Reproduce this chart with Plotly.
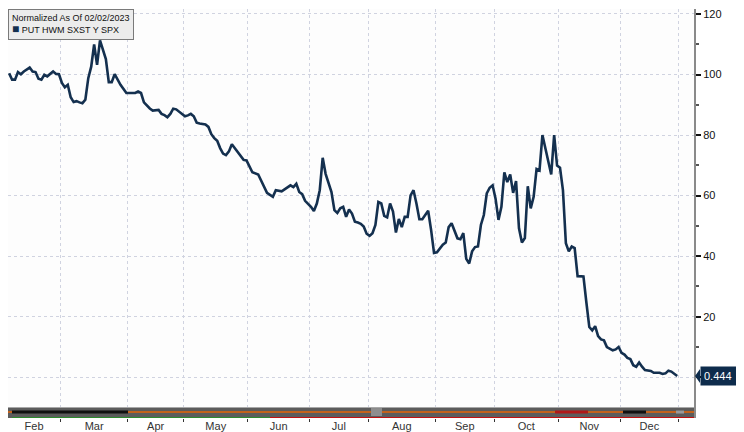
import pandas as pd
import plotly.graph_objects as go

# ---------------- data ----------------
series_name = "PUT HWM SXST Y SPX"
legend_title = "Normalized As Of 02/02/2023"
last_value_text = "0.444"

holidays = ["2023-02-20", "2023-04-07", "2023-05-29", "2023-06-19",
            "2023-07-04", "2023-09-04", "2023-11-23", "2023-12-25"]

dates = [
    "2023-02-02", "2023-02-03", "2023-02-06", "2023-02-07", "2023-02-08", "2023-02-09",
    "2023-02-13", "2023-02-14", "2023-02-15", "2023-02-16", "2023-02-17", "2023-02-21",
    "2023-02-22", "2023-02-23", "2023-02-24", "2023-02-27", "2023-02-28",
    "2023-03-01", "2023-03-02", "2023-03-03", "2023-03-06", "2023-03-07", "2023-03-08",
    "2023-03-09", "2023-03-10", "2023-03-13", "2023-03-14", "2023-03-15", "2023-03-16",
    "2023-03-17", "2023-03-20", "2023-03-22", "2023-03-23", "2023-03-24", "2023-03-27",
    "2023-03-29", "2023-03-31",
    "2023-04-05", "2023-04-06", "2023-04-10", "2023-04-11", "2023-04-13", "2023-04-14",
    "2023-04-18", "2023-04-19", "2023-04-20", "2023-04-21", "2023-04-24", "2023-04-25",
    "2023-04-26", "2023-04-27",
    "2023-05-01", "2023-05-02", "2023-05-03", "2023-05-04", "2023-05-05", "2023-05-08",
    "2023-05-10", "2023-05-11", "2023-05-12", "2023-05-15", "2023-05-16", "2023-05-17",
    "2023-05-18", "2023-05-19", "2023-05-22", "2023-05-23", "2023-05-24", "2023-05-26",
    "2023-05-30", "2023-05-31",
    "2023-06-01", "2023-06-02", "2023-06-06", "2023-06-07", "2023-06-08", "2023-06-09",
    "2023-06-13", "2023-06-14", "2023-06-16", "2023-06-20", "2023-06-22", "2023-06-23",
    "2023-06-26", "2023-06-27", "2023-06-28", "2023-06-29",
    "2023-07-03", "2023-07-05", "2023-07-06", "2023-07-07", "2023-07-10", "2023-07-11",
    "2023-07-13", "2023-07-14", "2023-07-17", "2023-07-18", "2023-07-19", "2023-07-20",
    "2023-07-21", "2023-07-24", "2023-07-25", "2023-07-26", "2023-07-27", "2023-07-28",
    "2023-07-31",
    "2023-08-01", "2023-08-02", "2023-08-03", "2023-08-04", "2023-08-07", "2023-08-08",
    "2023-08-09", "2023-08-10", "2023-08-11", "2023-08-14", "2023-08-15", "2023-08-16",
    "2023-08-17", "2023-08-18", "2023-08-21", "2023-08-22", "2023-08-23", "2023-08-24",
    "2023-08-25", "2023-08-28", "2023-08-29", "2023-08-30", "2023-08-31",
    "2023-09-01", "2023-09-05", "2023-09-06", "2023-09-07", "2023-09-08", "2023-09-11",
    "2023-09-12", "2023-09-13", "2023-09-14", "2023-09-15", "2023-09-18", "2023-09-19",
    "2023-09-20", "2023-09-21", "2023-09-22", "2023-09-25", "2023-09-26", "2023-09-27",
    "2023-09-28", "2023-09-29",
    "2023-10-02", "2023-10-03", "2023-10-04", "2023-10-05", "2023-10-06", "2023-10-09",
    "2023-10-10", "2023-10-11", "2023-10-12", "2023-10-13", "2023-10-16", "2023-10-17",
    "2023-10-18", "2023-10-19", "2023-10-20", "2023-10-23", "2023-10-24", "2023-10-25",
    "2023-10-27", "2023-10-30", "2023-10-31",
    "2023-11-01", "2023-11-02", "2023-11-03", "2023-11-06", "2023-11-07", "2023-11-08",
    "2023-11-09", "2023-11-13", "2023-11-14", "2023-11-15", "2023-11-16", "2023-11-17",
    "2023-11-20", "2023-11-21", "2023-11-22", "2023-11-24", "2023-11-28", "2023-11-29",
    "2023-11-30",
    "2023-12-01", "2023-12-04", "2023-12-05", "2023-12-06", "2023-12-07", "2023-12-08",
    "2023-12-11", "2023-12-12", "2023-12-13", "2023-12-15", "2023-12-18", "2023-12-20",
    "2023-12-21", "2023-12-22", "2023-12-26", "2023-12-27", "2023-12-29",
]

values = [
    100.4, 98.3, 98.3, 100.8, 100.1, 101.0,
    102.3, 101.0, 100.8, 98.6, 98.3, 99.9,
    99.4, 100.3, 101.0, 100.2, 100.1,
    97.2, 95.8, 96.6, 92.5, 90.9, 91.2,
    90.8, 90.5, 91.7, 98.8, 102.6, 109.9,
    103.2, 111.3, 105.1, 97.5, 97.5, 100.1,
    96.6, 93.9,
    93.9, 94.4, 93.9, 90.8, 88.8, 88.1,
    88.3, 87.0, 86.6, 85.9, 87.0, 88.7,
    88.5, 87.7,
    86.2, 86.5, 87.0, 86.2, 84.1, 83.8,
    83.5, 82.7, 80.3, 79.0, 78.1, 75.7,
    73.9, 73.4, 74.6, 77.0, 75.7, 72.9,
    71.8, 71.6,
    69.4, 67.7, 67.0, 65.0, 63.4, 60.9,
    59.6, 61.8, 61.4, 62.0, 63.4, 62.8,
    63.9, 61.2, 60.5, 58.3,
    56.3, 54.9, 57.4, 61.8, 72.5, 67.2,
    61.2, 55.2, 54.3, 55.8, 56.3, 53.0,
    55.4, 54.1, 51.4, 51.1, 50.7, 49.8,
    47.4,
    46.7, 47.6, 50.3, 57.9, 57.4, 53.3,
    52.8, 57.4, 54.7, 47.8, 52.3, 49.6,
    53.0, 53.0, 60.1, 61.8, 57.4, 52.2,
    52.2, 53.6, 55.0, 48.7, 41.1,
    41.3, 42.7, 43.8, 44.5, 49.6, 50.9,
    48.1, 45.9, 45.6, 47.6, 39.1, 37.6,
    41.6, 43.0, 43.2, 50.3, 53.6, 60.7,
    62.6, 63.4,
    59.0, 52.0, 56.3, 67.7, 64.5, 67.0,
    60.9, 64.8, 49.2, 44.5, 46.0, 63.1,
    55.8, 59.6, 68.8, 68.3, 80.0, 75.4,
    67.0, 80.0, 69.9,
    69.2, 61.8, 44.3, 41.6, 43.2, 42.7,
    33.4, 33.3, 24.7, 16.6, 15.5, 16.9,
    13.6, 12.5, 12.2, 10.0, 8.9, 9.2,
    10.0,
    8.1, 7.5, 6.4, 6.0, 4.0, 3.5,
    4.9, 3.5, 2.4, 2.1, 1.5, 1.5,
    1.1, 1.3, 2.2, 1.9, 0.444,
]

y_ticks = [0, 20, 40, 60, 80, 100, 120]
y_tick_text = ["", "20", "40", "60", "80", "100", "120"]

# ---------------- trading-day axis ----------------
cal = pd.bdate_range("2023-02-02", "2023-12-29", freq="C", holidays=holidays)
pos = list(cal.get_indexer(pd.to_datetime(dates)))
months = cal.to_period("M")
starts = [i for i in range(len(cal)) if i == 0 or months[i] != months[i - 1]]
bounds = [s - 0.5 for s in starts] + [len(cal) - 0.5]
mids = [(bounds[k] + bounds[k + 1]) / 2 for k in range(len(starts))]
month_text = [cal[s].strftime("%b") for s in starts]
y_minor = [(y_ticks[k] + y_ticks[k + 1]) / 2 for k in range(len(y_ticks) - 1)]

# the page body has an 8px margin, so the figure is laid out 8px smaller
OFF = 8
W, H = 744 - OFF, 432 - OFF
ML, MR, MT, MB = 0, 50, 0, 12
PW, PH = W - ML - MR, H - MT - MB
px_per_day = 2.93
x_lo = -0.4
x_hi = x_lo + PW / px_per_day
px_per_unit = 3.05
y_hi = (379 - OFF) / px_per_unit
y_lo = y_hi - PH / px_per_unit

def py(ypix):  # reference page pixel -> paper
    return (PH - (ypix - OFF - MT)) / PH

def pxp(xpix):  # reference page pixel -> paper
    return (xpix - OFF - ML) / PW

NAVY = "#14304f"
GRID = "#d0d3e0"
FONT = "Liberation Sans, Arial, sans-serif"

fig = go.Figure()
fig.add_trace(go.Scatter(
    x=pos, y=values, mode="lines", name=series_name,
    line=dict(color=NAVY, width=2.6), showlegend=False,
))

shapes = []
# bottom timeline strip
shapes.append(dict(type="rect", xref="paper", yref="paper", x0=0, x1=1,
                   y0=py(420), y1=py(409), fillcolor="#5c5c5c", line=dict(width=0), layer="above"))
shapes.append(dict(type="rect", xref="paper", yref="paper", x0=0, x1=1,
                   y0=py(410), y1=py(409), fillcolor="#a8a8a8", line=dict(width=0), layer="above"))
shapes.append(dict(type="line", xref="paper", yref="paper", x0=0, x1=1,
                   y0=py(414), y1=py(414), line=dict(color="#c2621c", width=2), layer="above"))
for a, b, c in [(12, 128, "#111111"), (555, 588, "#b01818"), (623, 646, "#111111"), (676, 684, "#9a9a9a")]:
    shapes.append(dict(type="line", xref="paper", yref="paper", x0=pxp(a), x1=pxp(b),
                       y0=py(414), y1=py(414), line=dict(color=c, width=3), layer="above"))
shapes.append(dict(type="line", xref="paper", yref="paper", x0=pxp(12), x1=pxp(270),
                   y0=py(419.5), y1=py(419.5), line=dict(color="#2d8a2d", width=1), layer="above"))
shapes.append(dict(type="line", xref="paper", yref="paper", x0=pxp(270), x1=1,
                   y0=py(419.5), y1=py(419.5), line=dict(color="#c01010", width=1), layer="above"))
shapes.append(dict(type="rect", xref="paper", yref="paper", x0=pxp(371), x1=pxp(382),
                   y0=py(418), y1=py(410), fillcolor="#8e8e8e", line=dict(width=0), layer="above"))
# last value pointer
shapes.append(dict(type="path", xref="paper", yref="y", xsizemode="pixel", ysizemode="pixel",
                   xanchor=1, yanchor=values[-1], path="M 1 0 L 6 7 L 6 -7 Z",
                   fillcolor="#0e2c4c", line=dict(width=0), layer="above"))

fig.update_layout(
    width=W, height=H,
    margin=dict(l=ML, r=MR, t=MT, b=MB),
    paper_bgcolor="white", plot_bgcolor="#fdfdfd",
    font=dict(family=FONT, size=11, color="#222"),
    xaxis=dict(
        range=[x_lo, x_hi], tickvals=mids, ticktext=month_text, ticks="",
        showgrid=False, zeroline=False, showline=False,
        tickfont=dict(size=11, color="#333"),
        minor=dict(tickvals=bounds[1:], ticks="outside", ticklen=3, tickcolor="#333",
                   showgrid=True, gridcolor=GRID, griddash="dot", gridwidth=1),
    ),
    yaxis=dict(
        side="right", range=[y_lo, y_hi], tickvals=y_ticks, ticktext=y_tick_text,
        ticks="outside", ticklen=5, tickwidth=2, tickcolor="#111",
        ticklabeloverflow="allow",
        showline=True, linecolor="#8a8a8a", linewidth=2,
        showgrid=True, gridcolor=GRID, griddash="dot", gridwidth=1, zeroline=False,
        tickfont=dict(size=11, color="#111"),
        minor=dict(tickvals=y_minor, ticks="outside", ticklen=3, tickcolor="#555", showgrid=False),
    ),
    shapes=shapes,
    annotations=[
        dict(xref="paper", yref="paper", x=0, y=1, xanchor="left", yanchor="top",
             text=legend_title + "<br><span style='color:" + NAVY + ";font-size:12px'>■</span> " + series_name,
             align="left", showarrow=False, bgcolor="#ececec", bordercolor="#7a7a7a",
             borderwidth=1, borderpad=3, font=dict(size=9, color="#111", family=FONT)),
        dict(xref="paper", yref="y", x=1, y=values[-1], xanchor="left", yanchor="middle",
             xshift=6, width=40, align="left", text=last_value_text, showarrow=False,
             bgcolor="#0e2c4c", borderpad=3, font=dict(size=11, color="white", family=FONT)),
    ],
)

fig.write_html("out.html")
